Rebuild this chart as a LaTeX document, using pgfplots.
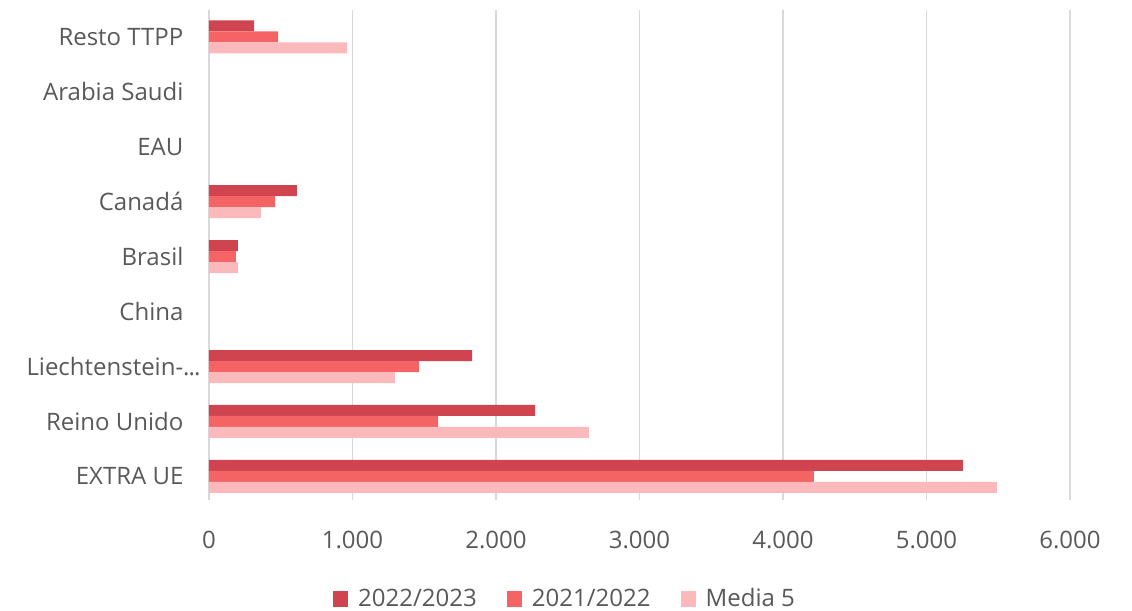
\documentclass[border=0pt]{standalone}
\usepackage{pgfplots}
\pgfplotsset{compat=1.18}
\usepackage{fontspec}
\setmainfont{Open Sans}
\definecolor{cA}{HTML}{D0444F}
\definecolor{cB}{HTML}{F46464}
\definecolor{cC}{HTML}{FBB9BC}
\definecolor{txt}{HTML}{595959}
\definecolor{grd}{HTML}{D9D9D9}
\begin{document}
\begin{tikzpicture}
\useasboundingbox (-104.5pt,-55.5pt) rectangle (461.5pt,250pt);
\begin{axis}[
  at={(0,0)}, anchor=south west,
  scale only axis, width=430.5pt, height=245pt,
  xbar, bar width=5.5pt,
  xmin=0, xmax=6000, ymin=-0.43, ymax=8.49,
  xtick={0,1000,2000,3000,4000,5000,6000},
  ytick={0,1,2,3,4,5,6,7,8},
  yticklabels={EXTRA UE,Reino Unido,{Liechtenstein-.\kern-0.5pt.\kern-0.5pt.\kern-8.5pt},China,Brasil,Canadá,EAU,Arabia Saudi,Resto TTPP},
  axis line style={draw=none},
  tick style={draw=none},
  xmajorgrids, grid style={grd, line width=0.8pt},
  /pgf/number format/assume math mode=true,
  /pgf/number format/.cd, 1000 sep={.}, /pgfplots/.cd,
  ticklabel style={font=\fontsize{12}{14}\selectfont, text=txt},
  xticklabel style={yshift=-12pt},
  yticklabel style={xshift=-5pt},
  legend style={at={(0.4146,-0.202)}, anchor=center, draw=none, legend columns=3,
    font=\fontsize{12}{14}\selectfont, text=txt,
    /tikz/every even column/.append style={column sep=13pt}},
  legend image code/.code={\fill[#1] (0pt,-3.8pt) rectangle (7.6pt,3.8pt); \path (10.6pt,0pt);},
]
\addplot[fill=cA, draw=none, bar shift=5.5pt] coordinates {
(5254,0) (2272,1) (1833,2) (202,4) (613,5) (314,8)};
\addplot[fill=cB, draw=none, bar shift=0pt] coordinates {
(4216,0) (1596,1) (1463,2) (188,4) (460,5) (481,8)};
\addplot[fill=cC, draw=none, bar shift=-5.5pt] coordinates {
(5491,0) (2648,1) (1296,2) (202,4) (362,5) (962,8)};
\legend{2022/2023,2021/2022,Media 5}
\end{axis}
\end{tikzpicture}
\end{document}
